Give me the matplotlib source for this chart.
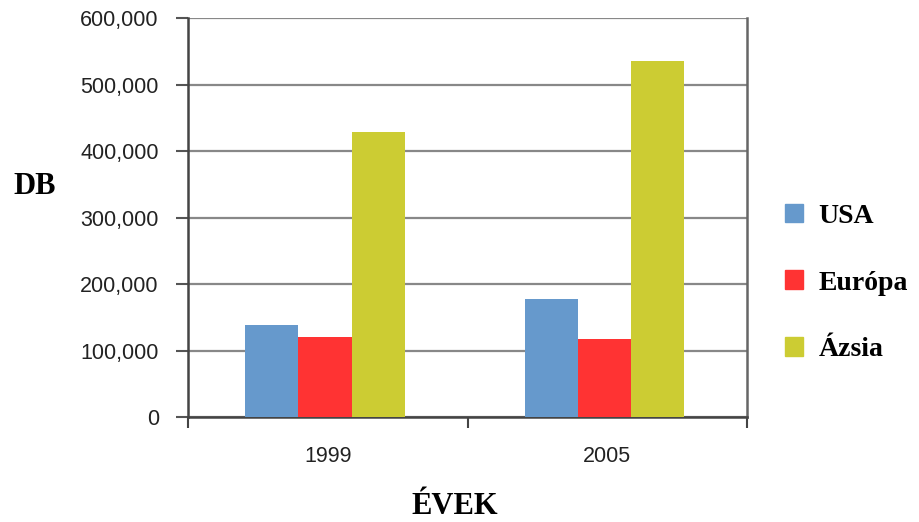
import numpy as np
import matplotlib.pyplot as plt
from matplotlib.patches import Patch

years = ['1999', '2005']
series = ['USA', 'Európa', 'Ázsia']
usa = [139000, 177000]
europa = [121000, 118000]
azsia = [429000, 536000]
colors = ['#6699CC', '#FF3333', '#CCCC33']

fig = plt.figure(figsize=(9.19, 5.22), dpi=100)
ax = fig.add_axes([0.2046, 0.2011, 0.6083, 0.7644])

x = np.arange(len(years))
w = 0.19
for i, (vals, c) in enumerate(zip([usa, europa, azsia], colors)):
    ax.bar(x + (i - 1) * w - 0.01, vals, width=w, color=c, zorder=3)

ax.set_xlim(-0.5, 1.5)
ax.set_ylim(0, 600000)
ax.set_yticks(range(0, 600001, 100000))
ax.set_yticklabels([f'{v:,}' for v in range(0, 600001, 100000)])
ax.yaxis.grid(True, color='#888888', linewidth=1.6, zorder=0)

ax.set_xticks(x)
ax.set_xticklabels(years)
ax.set_xticks([-0.5, 0.5, 1.5], minor=True)
ax.tick_params(axis='x', which='major', length=0, pad=21)
ax.tick_params(axis='x', which='minor', length=8, width=1.5, color='#444444')
ax.tick_params(axis='y', length=9, width=1.5, color='#555555', pad=12)
for lab in ax.get_xticklabels() + ax.get_yticklabels():
    lab.set_family('Liberation Sans')
    lab.set_fontsize(15.5)
    lab.set_color('#222222')

for s in ['left', 'bottom', 'right']:
    ax.spines[s].set_color('#444444')
    ax.spines[s].set_linewidth(1.8)
ax.spines['right'].set_color('#666666')
ax.spines['top'].set_visible(False)

fig.text(35 / 919, 1 - 186 / 522, 'DB', family='Liberation Serif', weight='bold',
         fontsize=22, ha='center', va='center')
fig.text(455 / 919, 1 - 506 / 522, 'ÉVEK', family='Liberation Serif', weight='bold',
         fontsize=22, ha='center', va='center')

handles = [Patch(color=c, label=s) for s, c in zip(series, colors)]
fig.legend(handles=handles, loc='center left', bbox_to_anchor=(785 / 919, 1 - 283 / 522),
           frameon=False, prop={'family': 'Liberation Serif', 'weight': 'bold', 'size': 20},
           labelspacing=1.5, handlelength=0.65, handleheight=0.65, handletextpad=0.55,
           borderpad=0, borderaxespad=0)

fig.savefig('out.png', dpi=100)
